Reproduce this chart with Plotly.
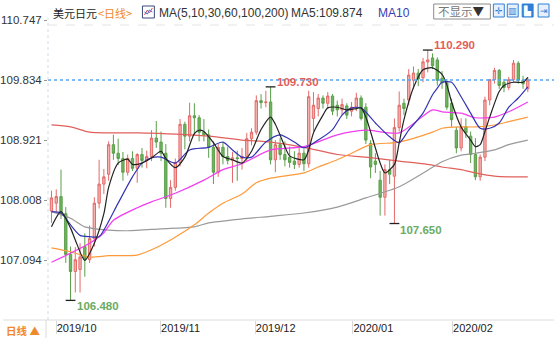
import pandas as pd
import plotly.graph_objects as go

# ---------------- data ----------------
title_cn = "美元日元"
period_label = "<日线>"
ma_spec = "MA(5,10,30,60,100,200)"

# trading days shown on the chart (New Year's Day has no bar)
dates = [d.strftime("%Y-%m-%d") for d in pd.bdate_range("2019-09-27", "2020-02-17")
         if d.strftime("%Y-%m-%d") != "2020-01-01"]

opens = [107.84, 107.96, 108.06, 107.80, 107.18, 106.92, 106.95, 107.30, 107.10, 107.42,
         107.96, 108.25, 108.40, 108.85, 108.72, 108.64, 108.43, 108.64, 108.49, 108.70,
         108.61, 108.67, 108.95, 108.89, 108.72, 108.03, 108.20, 108.58, 109.16, 108.98,
         109.29, 109.26, 109.04, 109.00, 108.81, 108.43, 108.81, 108.67, 108.61, 108.65,
         108.64, 108.67, 108.94, 109.04, 109.52, 109.49, 109.50, 108.62, 108.85, 108.70,
         108.66, 108.60, 108.55, 108.72, 108.56, 109.25, 109.40, 109.56, 109.48, 109.59,
         109.45, 109.38, 109.44, 109.36, 109.42, 109.56, 109.42, 108.87, 108.60, 108.31,
         108.05, 108.47, 108.37, 109.11, 109.48, 109.53, 109.83, 109.94, 109.87, 110.11,
         110.17, 110.14, 109.86, 109.79, 109.48, 109.07, 108.80, 109.12, 108.98, 108.70,
         108.36, 108.66, 109.53, 109.84, 109.98, 109.80, 109.72, 109.84, 110.09, 109.83,
         109.70]
highs = [108.15, 108.17, 108.47, 107.90, 107.30, 107.29, 107.35, 107.50, 107.62, 108.05,
         108.62, 108.48, 108.90, 109.00, 108.94, 108.74, 108.70, 108.75, 108.72, 108.80,
         108.76, 109.07, 109.21, 109.05, 108.86, 108.31, 108.64, 109.24, 109.20, 109.49,
         109.48, 109.30, 109.24, 109.08, 108.90, 108.87, 108.89, 108.82, 108.74, 108.76,
         108.80, 109.03, 109.10, 109.60, 109.62, 109.67, 109.73, 108.92, 108.95, 108.90,
         108.82, 108.75, 108.80, 108.78, 109.67, 109.65, 109.62, 109.60, 109.65, 109.62,
         109.52, 109.55, 109.48, 109.50, 109.64, 109.60, 109.48, 108.92, 108.72, 108.45,
         108.55, 108.62, 109.25, 109.66, 109.55, 110.00, 110.04, 110.00, 110.17, 110.29,
         110.24, 110.18, 109.97, 109.85, 109.55, 109.12, 109.25, 109.25, 109.05, 108.95,
         108.70, 109.58, 109.85, 110.02, 110.00, 109.85, 109.88, 110.14, 110.12, 109.90,
         109.88]
lows = [107.66, 107.82, 107.72, 107.05, 106.48, 106.60, 106.60, 106.84, 107.05, 107.30,
        107.88, 108.10, 108.30, 108.62, 108.54, 108.30, 108.38, 108.45, 108.27, 108.50,
        108.49, 108.60, 108.80, 108.60, 107.89, 107.89, 108.15, 108.52, 108.78, 108.90,
        109.00, 108.90, 108.90, 108.65, 108.25, 108.36, 108.55, 108.55, 108.27, 108.30,
        108.47, 108.60, 108.84, 109.00, 109.40, 109.42, 108.55, 108.43, 108.62, 108.52,
        108.50, 108.48, 108.50, 108.45, 108.50, 109.05, 109.28, 109.40, 109.40, 109.30,
        109.28, 109.30, 109.24, 109.28, 109.36, 109.22, 108.86, 108.34, 108.42, 107.77,
        107.77, 108.25, 107.65, 109.05, 109.30, 109.45, 109.70, 109.74, 109.80, 109.95,
        110.00, 109.75, 109.70, 109.38, 109.12, 108.72, 108.75, 108.95, 108.57, 108.31,
        108.30, 108.60, 109.45, 109.78, 109.70, 109.65, 109.68, 109.80, 109.78, 109.70,
        109.65]
closes = [108.04, 108.06, 107.80, 107.18, 106.92, 107.10, 107.14, 107.10, 107.42, 107.96,
          108.25, 108.36, 108.85, 108.72, 108.64, 108.43, 108.64, 108.49, 108.70, 108.61,
          108.67, 108.95, 108.89, 108.72, 108.03, 108.20, 108.58, 109.16, 108.98, 109.29,
          109.26, 109.04, 109.00, 108.81, 108.43, 108.81, 108.67, 108.61, 108.65, 108.64,
          108.67, 108.94, 109.04, 109.52, 109.49, 109.50, 108.62, 108.85, 108.70, 108.62,
          108.58, 108.55, 108.72, 108.56, 109.58, 109.45, 109.56, 109.48, 109.59, 109.36,
          109.38, 109.46, 109.30, 109.42, 109.56, 109.25, 108.92, 108.51, 108.55, 108.05,
          108.47, 108.40, 109.11, 109.45, 109.40, 109.91, 109.94, 109.85, 110.11, 110.14,
          110.05, 109.83, 109.79, 109.42, 109.23, 108.80, 109.12, 109.03, 108.70, 108.36,
          108.66, 109.53, 109.84, 109.98, 109.75, 109.72, 109.84, 110.09, 109.83, 109.776,
          109.834]

# moving averages (bar number, value)
ma5_bar = [0, 2, 4, 5, 7, 9, 11, 12, 14, 16, 17, 19, 21, 23, 24, 26, 28, 30, 31, 32, 34, 36, 38,
           40, 42, 44, 46, 47, 49, 50, 53, 54, 55, 57, 58, 60, 62, 64, 65, 66, 68, 69, 70, 72,
           73, 74, 76, 78, 80, 82, 83, 84, 86, 88, 89, 90, 91, 92, 94, 95, 97, 99, 100]
ma5_val = [107.60, 107.83, 107.58, 107.40, 107.09, 107.35, 107.80, 108.20, 108.57, 108.63,
           108.55, 108.57, 108.65, 108.75, 108.64, 108.50, 108.66, 109.02, 109.07, 109.05,
           108.88, 108.67, 108.62, 108.57, 108.75, 109.08, 109.27, 109.16, 108.82, 108.68,
           108.62, 108.77, 109.03, 109.30, 109.41, 109.42, 109.38, 109.40, 109.41, 109.27,
           108.80, 108.57, 108.42, 108.55, 108.88, 109.23, 109.72, 109.99, 110.02, 109.92,
           109.76, 109.50, 109.12, 108.92, 108.82, 108.85, 109.05, 109.27, 109.66, 109.75,
           109.80, 109.80, 109.874]
ma10_bar = [0, 2, 4, 6, 8, 10, 11, 14, 17, 19, 21, 23, 26, 29, 33, 36, 38, 40, 42, 45, 48,
            51, 53, 56, 59, 61, 63, 65, 68, 71, 73, 75, 78, 80, 81, 82, 84, 86, 88, 90, 92,
            94, 96, 98, 100]
ma10_val = [107.83, 107.81, 107.63, 107.47, 107.45, 107.45, 107.55, 107.96, 108.36, 108.57,
            108.65, 108.66, 108.57, 108.77, 108.81, 108.89, 108.77, 108.66, 108.66, 108.89,
            109.00, 108.89, 108.80, 108.92, 109.08, 109.30, 109.41, 109.41, 109.18, 108.97,
            108.88, 109.07, 109.33, 109.61, 109.71, 109.80, 109.80, 109.58, 109.33, 109.10,
            109.10, 109.18, 109.42, 109.56, 109.73]
ma30_bar = [0, 4, 8, 11, 13, 18, 21, 26, 32, 36, 40, 46, 53, 60, 66, 73, 80, 82, 86, 89, 93, 96, 100]
ma30_val = [107.06, 107.20, 107.35, 107.51, 107.70, 107.89, 107.98, 108.11, 108.31, 108.47,
            108.56, 108.77, 108.82, 109.00, 109.07, 109.03, 109.38, 109.35, 109.33, 109.26,
            109.27, 109.35, 109.50]
ma60_bar = [0, 4, 8, 12, 18, 21, 25, 30, 33, 36, 40, 43, 46, 53, 56, 60, 63, 67, 73, 80, 82,
            86, 89, 93, 96, 100]
ma60_val = [107.28, 107.22, 107.14, 107.16, 107.17, 107.25, 107.40, 107.63, 107.81, 107.96,
            108.10, 108.27, 108.34, 108.42, 108.51, 108.62, 108.72, 108.85, 108.89, 109.04,
            109.10, 109.12, 109.12, 109.15, 109.20, 109.27]
ma100_bar = [0, 4, 7, 12, 16, 23, 30, 33, 40, 46, 53, 60, 66, 73, 79, 82, 86, 89, 93, 96, 100]
ma100_val = [107.83, 107.73, 107.60, 107.55, 107.54, 107.57, 107.60, 107.66, 107.72, 107.76,
             107.81, 107.90, 108.04, 108.21, 108.46, 108.59, 108.69, 108.72, 108.77, 108.85,
             108.92]
ma200_bar = [0, 4, 8, 12, 18, 33, 40, 46, 53, 60, 66, 73, 80, 82, 86, 89, 93, 96, 100]
ma200_val = [109.15, 109.12, 109.04, 109.03, 109.03, 108.98, 108.92, 108.89, 108.81, 108.70,
             108.66, 108.60, 108.54, 108.51, 108.47, 108.42, 108.37, 108.36, 108.36]

# marked extremes: (kind, price)
extremes = [("low", 106.48), ("high", 109.73), ("low", 107.65), ("high", 110.29)]

y_ticks = [107.094, 108.008, 108.921, 109.834, 110.747]
month_labels = ["2019/10", "2019/11", "2019/12", "2020/01", "2020/02"]

# ---------------- geometry / style ----------------
W, H = 554, 338
ML, MR, MT, MB = 45, 0, 18, 18
PW, PH = W - ML - MR, H - MT - MB
Y_RANGE = [106.1816, 110.778]
X_RANGE = [-0.73, 105.5]
month_tick_pos = [1.0, 22.9, 42.8, 63.3, 84.2]


def px(x):
    return (x - ML) / PW


def py(y):
    return (H - MB - y) / PH


NUM_FONT = "Liberation Sans, Arial, sans-serif"
CJK_FONT = "Noto Sans CJK SC, sans-serif"
RED, GREEN = "#e35d5b", "#6aac62"

fig = go.Figure()

fig.add_trace(go.Candlestick(
    x=dates, open=opens, high=highs, low=lows, close=closes,
    increasing=dict(line=dict(color="#e26a68", width=1), fillcolor="#f3b3b0"),
    decreasing=dict(line=dict(color="#5a9f4a", width=1), fillcolor="#6fb55f"),
    whiskerwidth=0, showlegend=False, hoverinfo="skip",
))

ma_lines = [
    (ma200_bar, ma200_val, "#e0605c"),
    (ma100_bar, ma100_val, "#9a9a9a"),
    (ma60_bar, ma60_val, "#ff9a3c"),
    (ma30_bar, ma30_val, "#f23cf0"),
    (ma10_bar, ma10_val, "#3434b4"),
    (ma5_bar, ma5_val, "#222222"),
]
for bars, vals, color in ma_lines:
    fig.add_trace(go.Scatter(
        x=[dates[i] for i in bars], y=vals, mode="lines",
        line=dict(color=color, width=1.2, shape="spline", smoothing=0.7),
        showlegend=False, hoverinfo="skip",
    ))

# extreme markers + labels
for kind, price in extremes:
    i = lows.index(price) if kind == "low" else highs.index(price)
    color = GREEN if kind == "low" else RED
    fig.add_trace(go.Scatter(
        x=[dates[i]], y=[price], mode="markers",
        marker=dict(symbol="line-ew", size=7, line=dict(color="#222", width=1.3)),
        showlegend=False, hoverinfo="skip",
    ))
    fig.add_annotation(
        x=dates[i], y=price, text=f"<b>{price:.3f}</b>", showarrow=False,
        xanchor="left", yanchor="middle",
        xshift=4, yshift=(5 if kind == "high" else -6),
        font=dict(family=NUM_FONT, size=11.5, color=color),
    )

shapes = [
    # last price
    dict(type="line", xref="paper", yref="y", x0=0, x1=1, y0=closes[-1], y1=closes[-1],
         line=dict(color="#55a6f4", width=1.5, dash="dot"), layer="above"),
    # left axis rule
    dict(type="line", xref="paper", yref="paper", x0=0, x1=0, y0=0, y1=1,
         line=dict(color="#cfdbe8", width=1, dash="dot")),
    # header underline
    dict(type="line", xref="paper", yref="paper", x0=0, x1=1, y0=py(25), y1=py(25),
         line=dict(color="#e4e4e4", width=1, dash="dash")),
    # bottom bar border
    dict(type="line", xref="paper", yref="paper", x0=px(0), x1=1, y0=0, y1=0,
         line=dict(color="#dcdcdc", width=1)),
    dict(type="line", xref="paper", yref="paper", x0=px(43), x1=px(43), y0=0, y1=py(338),
         line=dict(color="#dcdcdc", width=1)),
    # indicator icon
    dict(type="rect", xref="paper", yref="paper", x0=px(140), x1=px(152), y0=py(18), y1=py(6),
         line=dict(color="#3b4a7a", width=1), fillcolor="#ffffff"),
    dict(type="path", xref="paper", yref="paper",
         path=f"M {px(142)} {py(15)} L {px(145)} {py(10)} L {px(147)} {py(13)} L {px(150)} {py(8)}",
         line=dict(color="#e05050", width=1)),
    dict(type="path", xref="paper", yref="paper",
         path=f"M {px(142)} {py(12)} L {px(145)} {py(14)} L {px(147)} {py(10)} L {px(150)} {py(12)}",
         line=dict(color="#4a6fd0", width=1)),
    # dropdown box
    dict(type="rect", xref="paper", yref="paper", x0=px(433), x1=px(490), y0=py(19), y1=py(4),
         line=dict(color="#8c8c8c", width=1), fillcolor="#ffffff"),
]
btns = [(493, "#e6f0fb", "#2f7fd6"), (507, "#e6f0fb", "#2f7fd6"),
        (522, "#2f7fd6", "#ffffff"), (538, "#e6f0fb", "#2f7fd6")]
btn_glyph = ["✛", "▥", "▙", "⇥"]
for (bx, fill, fg), g in zip(btns, btn_glyph):
    shapes.append(dict(type="rect", xref="paper", yref="paper", x0=px(bx), x1=px(bx + 11),
                       y0=py(17), y1=py(4), line=dict(color="#2f7fd6", width=1), fillcolor=fill))
    fig.add_annotation(x=px(bx + 5.5), y=py(10.5), xref="paper", yref="paper", text=g,
                       showarrow=False, xanchor="center", yanchor="middle",
                       font=dict(family="DejaVu Sans", size=9, color=fg))

fig.update_layout(shapes=shapes)

# header texts
hdr_y = py(12.5)
header = [
    (48, title_cn, CJK_FONT, 11, "#222222"),
    (93, period_label.replace("<", "&lt;").replace(">", "&gt;"), CJK_FONT, 11, "#f0892a"),
    (155, ma_spec, NUM_FONT, 12, "#333333"),
    (287, f"MA5:{ma5_val[-1]:.3f}", NUM_FONT, 12, "#333333"),
    (375, "MA10", NUM_FONT, 12, "#3b3bb5"),
]
for x0, txt, fam, sz, col in header:
    fig.add_annotation(x=px(x0), y=hdr_y, xref="paper", yref="paper", text=txt,
                       showarrow=False, xanchor="left", yanchor="middle",
                       font=dict(family=fam, size=sz, color=col))
fig.add_annotation(x=px(461), y=py(11.5), xref="paper", yref="paper",
                   text="不显示<span style='color:#333'>▼</span>", showarrow=False,
                   xanchor="center", yanchor="middle",
                   font=dict(family=CJK_FONT, size=11.5, color="#777777"))
fig.add_annotation(x=px(1), y=py(330), xref="paper", yref="paper", text="<b>日线 ▲</b>",
                   showarrow=False, xanchor="left", yanchor="middle",
                   font=dict(family=CJK_FONT, size=10.5, color="#f0892a"))

fig.update_layout(
    width=W, height=H,
    margin=dict(l=ML, r=MR, t=MT, b=MB, pad=0),
    paper_bgcolor="white", plot_bgcolor="white",
    hovermode=False, showlegend=False,
    xaxis=dict(
        type="category", range=X_RANGE, rangeslider=dict(visible=False),
        showgrid=False, zeroline=False, showline=False,
        tickmode="array", tickvals=month_tick_pos, ticktext=month_labels,
        ticks="outside", ticklen=13, tickcolor="#d9d9d9", tickwidth=1,
        ticklabelposition="outside right", ticklabelstandoff=-2,
        tickfont=dict(family=NUM_FONT, size=11, color="#222222"),
    ),
    yaxis=dict(
        range=Y_RANGE, showgrid=False, zeroline=False, showline=False,
        tickmode="array", tickvals=y_ticks, ticktext=[f"{v:.3f}" for v in y_ticks],
        ticks="outside", ticklen=3, tickcolor="#9a9a9a",
        tickfont=dict(family=NUM_FONT, size=11.5, color="#333333"),
    ),
)

fig.write_html("out.html")
